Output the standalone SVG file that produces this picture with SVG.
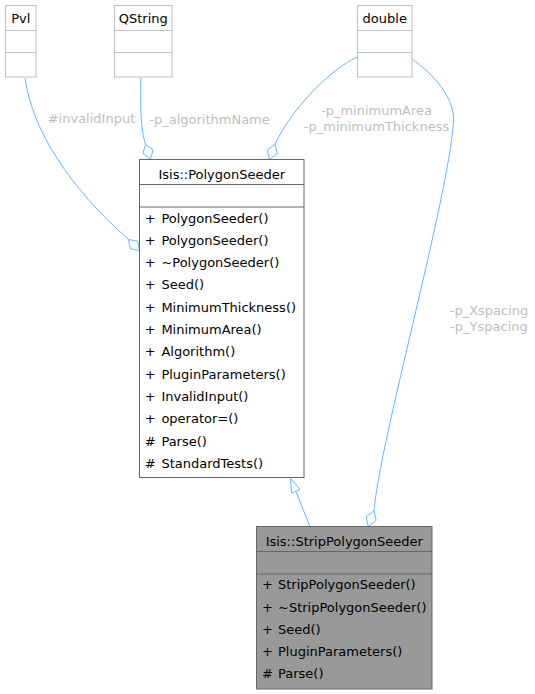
<svg xmlns="http://www.w3.org/2000/svg" width="535" height="694" viewBox="0 0 535 694">
<style>
text{font-family:"DejaVu Sans","Liberation Sans",sans-serif;font-size:13px;fill:#000}
.c{text-anchor:middle}
.lbl{fill:#bebebe;text-anchor:middle}
.ub{fill:#fff;stroke:#bfbfbf;stroke-width:1}
.db{fill:#fff;stroke:#666;stroke-width:1}
.gb{fill:#999;stroke:#666;stroke-width:1}
.ul{stroke:#bfbfbf;stroke-width:1}
.dl{stroke:#666;stroke-width:1}
.e{fill:none;stroke:#63b8ff;stroke-width:1}
.ah{fill:#fff;stroke:#63b8ff;stroke-width:1}
</style>
<rect width="535" height="694" fill="#fff"/>
<g id="edges">
<path class="e" d="M25,78 C32,130 70,188 128.5,239.5"/>
<polygon class="ah" points="139.5,250.5 137.75,241.25 128.5,239.5 130.25,248.75"/>
<path class="e" d="M141,78 C140,110 141,130 145.5,144.3"/>
<polygon class="ah" points="150.5,159.3 153,150.1 145.5,144.3 143,153.5"/>
<path class="e" d="M357,57 C330,70 292,108 275,144.3"/>
<polygon class="ah" points="269.5,159.3 277.2,153.6 275,144.3 267.3,150"/>
<path class="e" d="M412,59 C432,73 455,97 453.5,122 C448,200 380,440 374,510.8"/>
<polygon class="ah" points="368.3,526.5 376.1,520.5 374,510.8 366.2,516.8"/>
<path class="e" d="M310,526.5 L295.8,491.3"/>
<polygon class="ah" points="290.5,478.4 300.06,489.56 291.54,493.04"/>
<text class="lbl" x="91.5" y="123">#invalidInput</text>
<text class="lbl" x="209.5" y="123.5">-p_algorithmName</text>
<text class="lbl" x="376.5" y="114.5">-p_minimumArea</text>
<text class="lbl" x="376.5" y="131">-p_minimumThickness</text>
<text class="lbl" x="489" y="315">-p_Xspacing</text>
<text class="lbl" x="489" y="330.5">-p_Yspacing</text>
</g>
<g id="Pvl">
<rect class="ub" x="5.5" y="5.5" width="30.5" height="71.5"/>
<line class="ul" x1="5.5" y1="30.5" x2="36" y2="30.5"/>
<line class="ul" x1="5.5" y1="52.5" x2="36" y2="52.5"/>
<text class="c" x="20.75" y="23">Pvl</text>
</g>
<g id="QString">
<rect class="ub" x="114.5" y="5.5" width="57.5" height="71.5"/>
<line class="ul" x1="114.5" y1="30.5" x2="172" y2="30.5"/>
<line class="ul" x1="114.5" y1="52.5" x2="172" y2="52.5"/>
<text class="c" x="143.25" y="23">QString</text>
</g>
<g id="double">
<rect class="ub" x="357.5" y="5.5" width="54.5" height="71.5"/>
<line class="ul" x1="357.5" y1="30.5" x2="412" y2="30.5"/>
<line class="ul" x1="357.5" y1="52.5" x2="412" y2="52.5"/>
<text class="c" x="384.75" y="23">double</text>
</g>
<g id="PolygonSeeder">
<rect class="db" x="139.5" y="159.5" width="164.5" height="318"/>
<line class="dl" x1="139.5" y1="184.5" x2="304" y2="184.5"/>
<line class="dl" x1="139.5" y1="207" x2="304" y2="207"/>
<text class="c" x="221.75" y="178.7">Isis::PolygonSeeder</text>
<text x="144.7" y="222.5">+<tspan x="161.4">PolygonSeeder()</tspan></text>
<text x="144.7" y="244.8">+<tspan x="161.4">PolygonSeeder()</tspan></text>
<text x="144.7" y="267.1">+<tspan x="161.4">~PolygonSeeder()</tspan></text>
<text x="144.7" y="289.4">+<tspan x="161.4">Seed()</tspan></text>
<text x="144.7" y="311.7">+<tspan x="161.4">MinimumThickness()</tspan></text>
<text x="144.7" y="334">+<tspan x="161.4">MinimumArea()</tspan></text>
<text x="144.7" y="356.3">+<tspan x="161.4">Algorithm()</tspan></text>
<text x="144.7" y="378.6">+<tspan x="161.4">PluginParameters()</tspan></text>
<text x="144.7" y="400.9">+<tspan x="161.4">InvalidInput()</tspan></text>
<text x="144.7" y="423.2">+<tspan x="161.4">operator=()</tspan></text>
<text x="144.7" y="445.5">#<tspan x="161.4">Parse()</tspan></text>
<text x="144.7" y="467.8">#<tspan x="161.4">StandardTests()</tspan></text>
</g>
<g id="StripPolygonSeeder">
<rect class="gb" x="256.5" y="526.5" width="175.5" height="162.5"/>
<line class="dl" x1="256.5" y1="551.5" x2="432" y2="551.5"/>
<line class="dl" x1="256.5" y1="574" x2="432" y2="574"/>
<text class="c" x="344.25" y="545.5">Isis::StripPolygonSeeder</text>
<text x="262" y="589.3">+<tspan x="278">StripPolygonSeeder()</tspan></text>
<text x="262" y="611.6">+<tspan x="278">~StripPolygonSeeder()</tspan></text>
<text x="262" y="633.8">+<tspan x="278">Seed()</tspan></text>
<text x="262" y="656">+<tspan x="278">PluginParameters()</tspan></text>
<text x="262" y="678.3">#<tspan x="278">Parse()</tspan></text>
</g>
</svg>
